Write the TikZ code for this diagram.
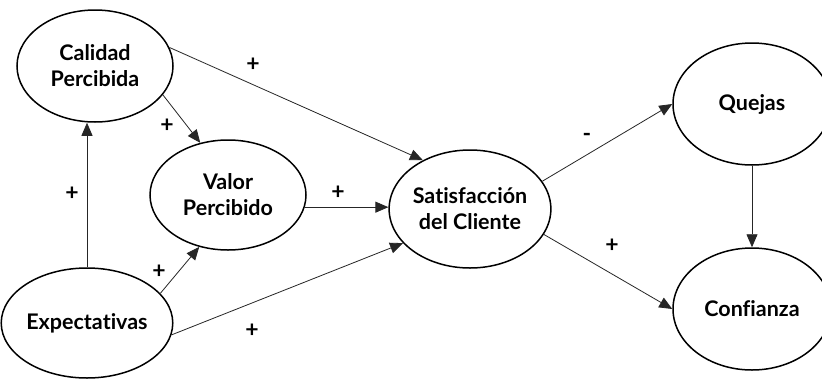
\documentclass[tikz,border=0pt]{standalone}
\usepackage{fontspec}
\setmainfont{Lato}[Ligatures=NoCommon]
\usetikzlibrary{shapes.geometric,arrows.meta}
\begin{document}
\begin{tikzpicture}[x=1pt,y=-1pt,
  var/.style={ellipse,draw,line width=1.5pt,inner sep=0pt,align=center,
    font=\fontsize{21.5}{26}\selectfont\bfseries},
  arr/.style={-{Triangle[length=13pt,width=11pt]},line width=0.8pt,draw=black!85},
  sgn/.style={font=\fontsize{23}{23}\selectfont\bfseries,inner sep=0pt}]
\useasboundingbox[fill=white] (0,0) rectangle (822,378);
\node[var,minimum width=156pt,minimum height=112pt] (cal) at (95,66) {Calidad\\Percibida};
\node[var,minimum width=156pt,minimum height=110pt] (val) at (228,195) {Valor\\Percibido};
\node[var,minimum width=158pt,minimum height=110pt] (exp) at (87,323) {Expectativas};
\node[var,minimum width=156pt,minimum height=118pt] (sat) at (470,209) {Satisfacción\\del Cliente};
\node[var,minimum width=158pt,minimum height=122pt] (q) at (752,104) {Quejas};
\node[var,minimum width=158pt,minimum height=122pt] (conf) at (752,309) {Confianza};

\draw[arr] (cal.14) -- (sat.134);
\draw[arr] (cal.-23) -- (val.118);
\draw[arr] (exp.north) -- (exp.north |- cal.south);
\draw[arr] (exp.22) -- (val.241);
\draw[arr] (val.-9) -- (val.-9 -| sat.west);
\draw[arr] (exp.-8.5) -- (sat.207.6);
\draw[arr] (sat.21.7) -- (q.west);
\draw[arr] (sat.-19.6) -- (conf.west);
\draw[arr] (q.south) -- (conf.north);

\node[sgn] (s1) at (253,65) {+};
\node[sgn] (s2) at (167,126) {+};
\node[sgn] (s3) at (72,194) {+};
\node[sgn] (s4) at (159,272) {+};
\node[sgn] (s5) at (338,193) {+};
\node[sgn] (s6) at (252,331) {+};
\node[sgn] (s7) at (587,137) {-};
\node[sgn] (s8) at (612,246) {+};
\end{tikzpicture}
\end{document}
